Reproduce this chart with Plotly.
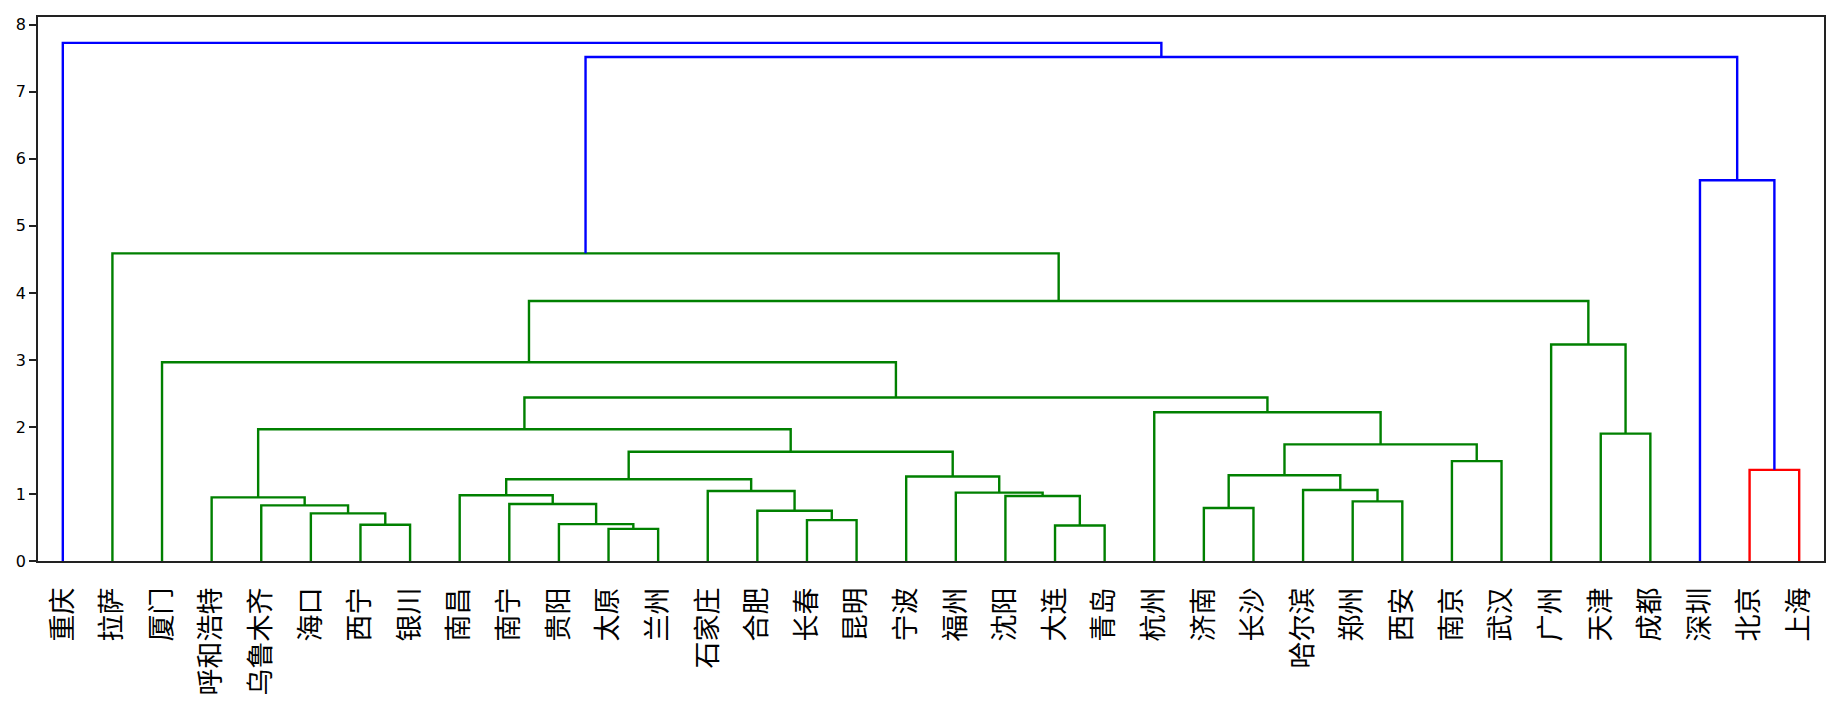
import plotly.graph_objects as go

# leaves, left to right as they appear under the tree
cities = ['重庆', '拉萨', '厦门', '呼和浩特', '乌鲁木齐', '海口', '西宁', '银川',
          '南昌', '南宁', '贵阳', '太原', '兰州', '石家庄', '合肥', '长春', '昆明',
          '宁波', '福州', '沈阳', '大连', '青岛', '杭州', '济南', '长沙', '哈尔滨',
          '郑州', '西安', '南京', '武汉', '广州', '天津', '成都', '深圳', '北京', '上海']

# merges: ids 0-35 are leaves, merge k gets id 36 + k
merge_left = [11, 20, 6, 10, 15, 5, 14, 23, 4, 9, 26, 3, 19, 8, 18, 13, 25, 49, 17,
              43, 34, 28, 53, 55, 31, 47, 22, 61, 2, 30, 64, 1, 33, 67, 0]
merge_right = [12, 21, 7, 36, 16, 38, 40, 24, 41, 39, 27, 44, 37, 45, 48, 42, 46, 51,
               50, 52, 35, 29, 54, 57, 32, 58, 59, 62, 63, 60, 65, 66, 56, 68, 69]
merge_height = [0.48, 0.53, 0.54, 0.55, 0.61, 0.71, 0.75, 0.79, 0.83, 0.85, 0.89,
                0.95, 0.97, 0.98, 1.02, 1.045, 1.06, 1.22, 1.26, 1.28, 1.36, 1.49,
                1.63, 1.74, 1.90, 1.965, 2.22, 2.44, 2.965, 3.23, 3.88, 4.59, 5.68,
                7.52, 7.73]

n = len(cities)
threshold = 0.7 * max(merge_height)
palette = ['green', 'red', 'cyan', 'magenta', 'olive', 'black']

# positions like scipy: leaves at 5, 15, 25, ...
pos_x = {i: 5 + 10 * i for i in range(n)}
pos_y = {i: 0.0 for i in range(n)}
for k, (a, b, h) in enumerate(zip(merge_left, merge_right, merge_height)):
    pos_x[n + k] = (pos_x[a] + pos_x[b]) / 2
    pos_y[n + k] = h

# colour each merge: blue above threshold, otherwise by cluster left to right
colors = {}

def paint(node, col):
    if node < n:
        return
    k = node - n
    colors[k] = col
    paint(merge_left[k], col)
    paint(merge_right[k], col)

next_col = [0]

def walk(node):
    if node < n:
        return
    k = node - n
    if merge_height[k] > threshold:
        colors[k] = 'blue'
        walk(merge_left[k])
        walk(merge_right[k])
    else:
        paint(node, palette[next_col[0] % len(palette)])
        next_col[0] += 1

walk(n + len(merge_height) - 1)

fig = go.Figure()
segs = {}
for k, (a, b, h) in enumerate(zip(merge_left, merge_right, merge_height)):
    xs, ys = segs.setdefault(colors[k], ([], []))
    xs += [pos_x[a], pos_x[a], pos_x[b], pos_x[b], None]
    ys += [pos_y[a], h, h, pos_y[b], None]

line_colors = {'green': '#008000', 'red': '#ff0000', 'blue': '#0000ff'}
for col, (xs, ys) in segs.items():
    fig.add_trace(go.Scatter(x=xs, y=ys, mode='lines',
                             line=dict(color=line_colors.get(col, col), width=2.4),
                             hoverinfo='skip', showlegend=False))

fig.update_layout(
    width=1841, height=709,
    margin=dict(l=38, r=17, t=17, b=148),
    plot_bgcolor='white', paper_bgcolor='white',
)
fig.update_xaxes(
    range=[0, 10 * n], tickmode='array',
    tickvals=[5 + 10 * i for i in range(n)], ticktext=cities,
    tickangle=-90, tickfont=dict(family='Noto Sans CJK SC', size=27, color='black'),
    ticks='outside', ticklen=14, tickcolor='rgba(0,0,0,0)',
    showgrid=False, zeroline=False, automargin=False,
    showline=True, linecolor='#222', linewidth=1.6, mirror=True,
)
fig.update_yaxes(
    range=[0, max(merge_height) * 1.05], tickmode='array',
    tickvals=list(range(9)),
    tickfont=dict(family='DejaVu Sans', size=16, color='black'),
    ticks='outside', ticklen=7, tickwidth=1.5, tickcolor='#222',
    showgrid=False, zeroline=False, automargin=False,
    showline=True, linecolor='#222', linewidth=1.6, mirror=True,
)

# drop the page's default body margin so the figure fills the window exactly
fig.write_html("out.html", config={'displayModeBar': False},
               post_script="document.body.style.margin='0';")
